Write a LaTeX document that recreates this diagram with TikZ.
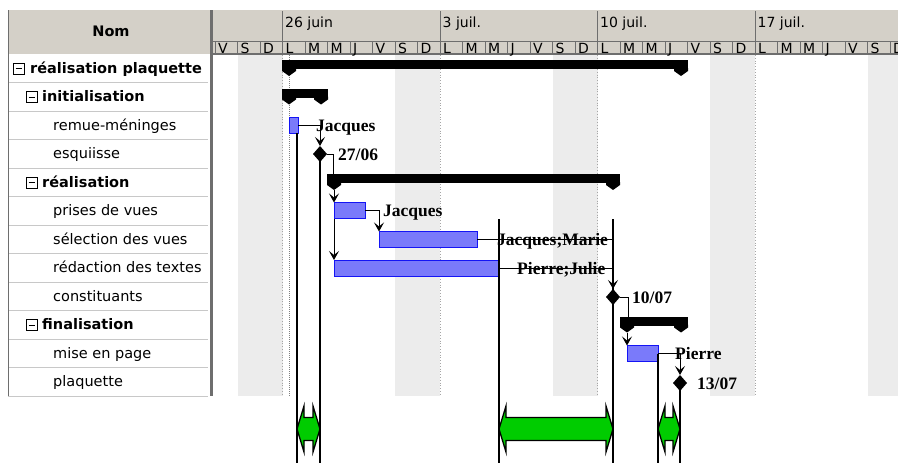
\documentclass[tikz,border=0pt]{standalone}
\usepackage{fontspec}
\setmainfont{DejaVu Sans}
\newfontfamily\lblfont{Liberation Serif}
\usetikzlibrary{arrows.meta,shapes.geometric,calc}
\definecolor{hdrgray}{RGB}{212,208,200}
\definecolor{linegray}{RGB}{200,200,200}
\definecolor{darkline}{RGB}{110,110,110}
\definecolor{wkend}{RGB}{236,236,236}
\definecolor{barfill}{RGB}{122,122,250}
\definecolor{barline}{RGB}{20,20,245}
\definecolor{arrgreen}{RGB}{0,204,0}
\newcommand\GSum[4]{%
  \node[sumbar, minimum width={#3-#2}, minimum height=9] (#1) at (#2,#4-8) {};
  \fill (#2,#4) -- (#2+14,#4) -- (#2+14,#4+3) -- (#2+7,#4+8) -- (#2,#4+3) -- cycle;
  \fill (#3-14,#4) -- (#3,#4) -- (#3,#4+3) -- (#3-7,#4+8) -- (#3-14,#4+3) -- cycle;
  \coordinate (#1-L) at (#2+7,#4+8);
  \coordinate (#1-R) at (#3-7,#4+8);}
\newcommand\GreenArrow[3]{%
  \draw[greenarrow] (#2,429) -- (#2+7,406) -- (#2+7,417.5) -- (#3-7,417.5) -- (#3-7,406)
    -- (#3,429) -- (#3-7,452) -- (#3-7,440.5) -- (#2+7,440.5) -- (#2+7,452) -- cycle;
  \coordinate (#1) at ({(#2+#3)/2},429);}
\begin{document}
\begin{tikzpicture}[x=1pt,y=-1pt,
  rowtxt/.style={anchor=base west, inner sep=0, font=\fontsize{14.5}{16}\selectfont},
  grptxt/.style={anchor=base west, inner sep=0, font=\fontsize{14.5}{16}\selectfont\bfseries},
  hdrtxt/.style={anchor=base west, inner sep=0, font=\fontsize{14}{16}\selectfont},
  minusbox/.style={draw=black, line width=0.8, minimum size=11, inner sep=0,
    path picture={\draw[line width=0.9] ([xshift=2.5]path picture bounding box.west) -- ([xshift=-2.5]path picture bounding box.east);}},
  taskbar/.style={draw=barline, fill=barfill, line width=0.8, inner sep=0, outer sep=0, anchor=north west, minimum height=16},
  sumbar/.style={fill=black, inner sep=0, outer sep=0, anchor=north west},
  milestone/.style={diamond, fill=black, inner sep=0, outer sep=0, minimum width=14, minimum height=16},
  link/.style={draw=black, line width=1},
  linkarrow/.style={link, -{Stealth[length=9pt,width=10pt,inset=4pt]}},
  lbl/.style={anchor=base west, inner sep=0, font=\lblfont\bfseries\fontsize{17.5}{19}\selectfont},
  slack/.style={draw=black, line width=2},
  greenarrow/.style={fill=arrgreen, draw=black, line width=1.3, line join=miter}]
\useasboundingbox (0,0) rectangle (898,463);
\fill[white] (0,0) rectangle (898,463);

% ---------- left table ----------
\fill[hdrgray] (8,10) rectangle (210,54);
\node[font=\fontsize{14.5}{16}\selectfont\bfseries] (nom) at (111,31) {Nom};
\foreach \i in {1,...,12} \draw[linegray, line width=1] (8,54+28.5*\i) -- (208,54+28.5*\i);
\draw[darkline, line width=1] (8,10) -- (8,396);
\draw[darkline, line width=2.5] (211.5,10) -- (211.5,396);

\node[minusbox] (b1) at (18.5,68.5) {};
\node[grptxt] (n1) at (30,73) {réalisation plaquette};
\node[minusbox] (b2) at (31.5,97) {};
\node[grptxt] (n2) at (42,101.5) {initialisation};
\node[rowtxt] (n3) at (53,130) {remue-méninges};
\node[rowtxt] (n4) at (53,158.5) {esquiisse};
\node[minusbox] (b5) at (31.5,182.5) {};
\node[grptxt] (n5) at (42,187) {réalisation};
\node[rowtxt] (n6) at (53,215.5) {prises de vues};
\node[rowtxt] (n7) at (53,244) {sélection des vues};
\node[rowtxt] (n8) at (53,272.5) {rédaction des textes};
\node[rowtxt] (n9) at (53,301) {constituants};
\node[minusbox] (b10) at (31.5,325) {};
\node[grptxt] (n10) at (42,329.5) {finalisation};
\node[rowtxt] (n11) at (53,358) {mise en page};
\node[rowtxt] (n12) at (53,386.5) {plaquette};

% ---------- chart header ----------
\fill[hdrgray] (213,10) rectangle (898,54);
\draw[darkline, line width=1] (213,41) -- (898,41);
\draw[darkline, line width=1.3] (213,54) -- (898,54);
\foreach \l [count=\i from -3] in {V,S,D,L,M,M,J,V,S,D,L,M,M,J,V,S,D,L,M,M,J,V,S,D,L,M,M,J,V,S,D} {
  \draw[darkline, line width=1] (282.5+22.5*\i,41) -- (282.5+22.5*\i,54);
  \node[hdrtxt] at (285.5+22.5*\i,53.5) {\l};
}
\foreach \k/\t in {0/26 juin,7/3 juil.,14/10 juil.,21/17 juil.} {
  \draw[darkline, line width=1] (282.5+22.5*\k,11) -- (282.5+22.5*\k,54);
  \node[hdrtxt] at (285+22.5*\k,27.5) {\t};
}

% ---------- weekend shading & grid ----------
\foreach \k in {-2,5,12,19,26}
  \fill[wkend] (282.5+22.5*\k,55) rectangle ({min(282.5+22.5*\k+45,898)},396);
\foreach \k in {0,7,14,21}
  \draw[gray!70, line width=0.8, dotted] (282.5+22.5*\k,55) -- (282.5+22.5*\k,396);
\draw[gray, line width=1, densely dotted] (289.5,55) -- (289.5,396);

% ---------- summary bars ----------
\GSum{S1}{282}{688}{68}
\GSum{S2}{282}{328}{96.5}
\GSum{S3}{327}{620}{182}
\GSum{S4}{620}{688}{324.5}

% ---------- tasks ----------
\node[taskbar, minimum width=9] (T1) at (289,117) {};
\node[taskbar, minimum width=31] (T2) at (334,202.5) {};
\node[taskbar, minimum width=98] (T3) at (379,231.5) {};
\node[taskbar, minimum width=165] (T4) at (334,260) {};
\node[taskbar, minimum width=31] (T5) at (627,345.5) {};

% ---------- milestones ----------
\node[milestone] (M1) at (320,154) {};
\node[milestone] (M2) at (613,297) {};
\node[milestone] (M3) at (680,383) {};

% ---------- links ----------
\draw[linkarrow] (T1.east) -| (M1.north);
\draw[link] (M1.east) -| ([xshift=6]S3.north west);
\draw[linkarrow] (S3-L) -- (T2.north west);
\draw[linkarrow] (T2.south west) -- (T4.north west);
\draw[linkarrow] (T2.east) -| (T3.north west);
\draw[linkarrow] (T3.east) -| (M2.north);
\draw[link] (T4.east) -- (T4.east -| M2.north);
\draw[link] (M2.east) -| ([xshift=8]S4.north west);
\draw[linkarrow] (S4-L) -- (T5.north west);
\draw[linkarrow] (T5.east) -| (M3.north);

% ---------- labels ----------
\node[lbl] (l1) at ($(T1.east)+(18,6)$) {Jacques};
\node[lbl] (l2) at ($(M1.center)+(18,6)$) {27/06};
\node[lbl] (l3) at ($(T2.east)+(18,6)$) {Jacques};
\node[lbl] (l4) at ($(T3.east)+(20,6)$) {Jacques;Marie};
\node[lbl] (l5) at ($(T4.east)+(18,6)$) {Pierre;Julie};
\node[lbl] (l6) at ($(M2.center)+(19,6)$) {10/07};
\node[lbl] (l7) at ($(T5.east)+(17,6)$) {Pierre};
\node[lbl] (l8) at ($(M3.center)+(17,6)$) {13/07};

% ---------- slack markers ----------
\coordinate (v1) at (297,463);
\coordinate (v2) at (320,463);
\coordinate (v3) at (499,463);
\coordinate (v4) at (613,463);
\coordinate (v5) at (658,463);
\coordinate (v6) at (680,463);
\draw[slack] (T1.south east) ++(-1,0) coordinate (v1t) -- (v1t |- v1);
\draw[slack] (M1.center) -- (v2);
\draw[slack] (499,219) coordinate (v3t) -- (v3);
\draw[slack] (613,219) coordinate (v4t) -- (v4);
\draw[slack] (T5.east) -- (T5.east |- v5);
\draw[slack] (M3.center) -- (v6);
\GreenArrow{g1}{297}{320}
\GreenArrow{g2}{499}{613}
\GreenArrow{g3}{658}{680}
\end{tikzpicture}
\end{document}
